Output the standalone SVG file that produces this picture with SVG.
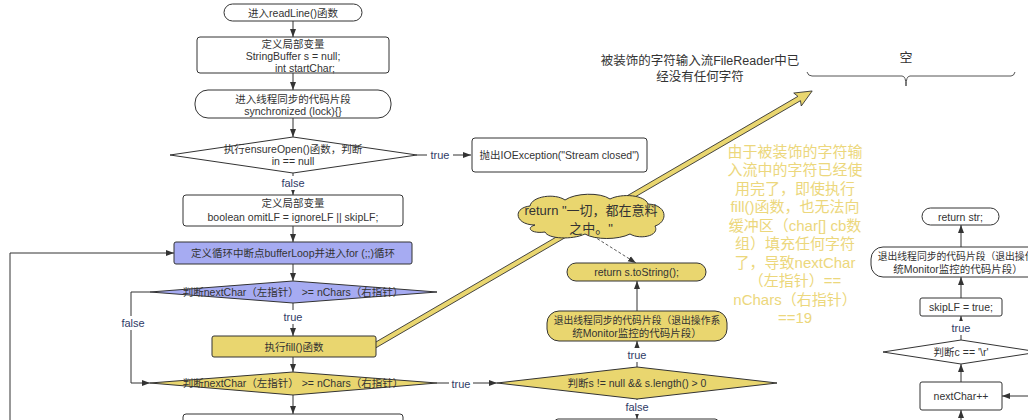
<svg xmlns="http://www.w3.org/2000/svg" width="1028" height="420" viewBox="0 0 1028 420">
<defs>
<style>
.t{font-family:"Liberation Sans","Noto Sans CJK SC",sans-serif;font-size:10.5px;fill:#333;text-anchor:middle;dominant-baseline:central}
.s{font-size:9.8px}
.lb{font-family:"Liberation Sans","Noto Sans CJK SC",sans-serif;font-size:11px;fill:#2f3b66;text-anchor:middle;dominant-baseline:central}
.w{fill:#fff;stroke:#333;stroke-width:1}
.b{fill:#a6abf2;stroke:#333;stroke-width:1}
.y{fill:#e9d66f;stroke:#333;stroke-width:1}
.c{fill:none;stroke:#333;stroke-width:1}
.yt{font-family:"Liberation Sans","Noto Sans CJK SC",sans-serif;font-size:15px;fill:#ecd77c;text-anchor:middle;dominant-baseline:central}
</style>
<marker id="ah" viewBox="0 0 8 8" refX="8" refY="4" markerWidth="8" markerHeight="8" markerUnits="userSpaceOnUse" orient="auto">
<path d="M0,1 L8,4 L0,7 Z" fill="#333"/>
</marker>
</defs>
<rect width="1028" height="420" fill="#fff"/>

<g id="connectors">
<line class="c" x1="293" y1="21" x2="293" y2="37" marker-end="url(#ah)"/>
<line class="c" x1="293" y1="73" x2="293" y2="90" marker-end="url(#ah)"/>
<line class="c" x1="293" y1="118" x2="293" y2="137" marker-end="url(#ah)"/>
<line class="c" x1="417" y1="155" x2="471" y2="155" marker-end="url(#ah)"/>
<line class="c" x1="293" y1="173" x2="293" y2="195" marker-end="url(#ah)"/>
<line class="c" x1="293" y1="226" x2="293" y2="242" marker-end="url(#ah)"/>
<polyline class="c" points="10,420 10,253 174,253" marker-end="url(#ah)"/>
<line class="c" x1="293" y1="264" x2="293" y2="281" marker-end="url(#ah)"/>
<line class="c" x1="293" y1="303" x2="293" y2="336" marker-end="url(#ah)"/>
<polyline class="c" points="150,292 131,292 131,383 150,383" marker-end="url(#ah)"/>
<line class="c" x1="293" y1="357" x2="293" y2="372" marker-end="url(#ah)"/>
<line class="c" x1="437" y1="383" x2="497" y2="383" marker-end="url(#ah)"/>
<line class="c" x1="293" y1="395" x2="293" y2="414" marker-end="url(#ah)"/>
<line class="c" x1="637" y1="367" x2="637" y2="341" marker-end="url(#ah)"/>
<line class="c" x1="637" y1="311" x2="637" y2="281" marker-end="url(#ah)"/>
<line class="c" x1="637" y1="399" x2="637" y2="419" marker-end="url(#ah)"/>
<line x1="593" y1="236" x2="636" y2="263" stroke="#333" stroke-width="0.8" stroke-dasharray="3,2" marker-end="url(#ah)"/>
<line class="c" x1="961" y1="420" x2="961" y2="410" marker-end="url(#ah)"/>
<line class="c" x1="1028" y1="396" x2="1002" y2="396" marker-end="url(#ah)"/>
<line class="c" x1="961" y1="382" x2="961" y2="364" marker-end="url(#ah)"/>
<line class="c" x1="961" y1="340" x2="961" y2="316" marker-end="url(#ah)"/>
<line class="c" x1="961" y1="298" x2="961" y2="277" marker-end="url(#ah)"/>
<line class="c" x1="961" y1="247" x2="961" y2="225" marker-end="url(#ah)"/>
<g transform="translate(374,346) rotate(-30.2)">
<polygon points="0,-2.5 492,-2.5 490,-7.5 507,0 490,7.5 492,2.5 0,2.5" fill="#e9d66f" stroke="#333" stroke-width="0.8"/>
</g>
<rect x="427" y="148" width="26" height="14" fill="#fff"/><text class="lb" x="440" y="155">true</text>
<rect x="280" y="176" width="26" height="14" fill="#fff"/><text class="lb" x="293" y="183">false</text>
<rect x="118" y="316" width="30" height="14" fill="#fff"/><text class="lb" x="133" y="323">false</text>
<rect x="281" y="310" width="24" height="14" fill="#fff"/><text class="lb" x="293" y="317">true</text>
<rect x="449" y="376" width="24" height="14" fill="#fff"/><text class="lb" x="461" y="384">true</text>
<rect x="625" y="348" width="24" height="14" fill="#fff"/><text class="lb" x="637" y="355">true</text>
<rect x="623" y="400" width="28" height="14" fill="#fff"/><text class="lb" x="637" y="407">false</text>
<rect x="949" y="321" width="24" height="14" fill="#fff"/><text class="lb" x="961" y="328">true</text>
</g>

<g id="n1"><rect class="w" x="224" y="4" width="138" height="17" rx="8.5"/><text class="t" x="293" y="12.5">进入readLine()函数</text></g>
<g id="n2"><rect class="w" x="197" y="37" width="192" height="36" rx="3"/><text class="t" x="293" y="44">定义局部变量</text><text class="t" x="293" y="56">StringBuffer s = null;</text><text class="t" x="305" y="68">int startChar;</text></g>
<g id="n3"><rect class="w" x="195" y="90" width="196" height="28" rx="13"/><text class="t" x="293" y="99">进入线程同步的代码片段</text><text class="t" x="293" y="111">synchronized (lock){}</text></g>
<g id="n4"><polygon class="w" points="293,137 417,155 293,173 170,155"/><text class="t" x="293" y="149">执行ensureOpen()函数，判断</text><text class="t" x="293" y="161">in == null</text></g>
<g id="n5"><rect class="w" x="472" y="138" width="175" height="34" rx="3"/><text class="t" x="559.5" y="155">抛出IOException("Stream closed")</text></g>
<g id="n6"><rect class="w" x="183" y="195" width="220" height="31" rx="3"/><text class="t" x="293" y="203">定义局部变量</text><text class="t" x="293" y="217">boolean omitLF = ignoreLF || skipLF;</text></g>
<g id="n7"><rect class="b" x="174" y="242" width="238" height="22" rx="2"/><text class="t" x="293" y="253">定义循环中断点bufferLoop并进入for (;;)循环</text></g>
<g id="n8"><polygon class="b" points="293,281 437,292 293,303 150,292"/><text class="t" x="293" y="292">判断nextChar（左指针） &gt;= nChars（右指针）</text></g>
<g id="n9"><rect class="y" x="212" y="336" width="164" height="21" rx="2"/><text class="t" x="294" y="346.5">执行fill()函数</text></g>
<g id="n10"><polygon class="y" points="293,372 437,383 293,395 150,383"/><text class="t" x="293" y="383">判断nextChar（左指针） &gt;= nChars（右指针）</text></g>
<g id="n11"><rect class="w" x="183" y="414" width="220" height="30" rx="3"/></g>
<g id="n12"><path class="y" d="M535,225 C515,225 512,208 530,206 C532,196 555,193 565,200 C575,193 600,192 610,199 C622,193 645,195 648,204 C668,205 668,222 655,226 C660,236 640,240 630,234 C618,240 595,240 585,234 C572,240 548,239 545,232 C532,234 525,228 535,225 Z"/><text class="t" style="font-size:13px" x="591" y="210">return "一切，都在意料</text><text class="t" style="font-size:13px" x="591" y="228">之中。"</text></g>
<g id="n13"><rect class="y" x="567" y="263" width="139" height="18" rx="9"/><text class="t" x="636.5" y="272">return s.toString();</text></g>
<g id="n14"><rect class="y" x="547" y="311" width="180" height="30" rx="12"/><text class="t s" x="637" y="320">退出线程同步的代码片段（退出操作系</text><text class="t" x="637" y="333">统Monitor监控的代码片段）</text></g>
<g id="n15"><polygon class="y" points="637,367 777,383 637,399 497,383"/><text class="t" x="637" y="383">判断s != null &amp;&amp; s.length() &gt; 0</text></g>
<g id="n16"><rect class="w" x="555" y="419" width="163" height="20" rx="3"/></g>
<g id="n17"><text class="t" style="font-size:12.5px" x="700" y="61">被装饰的字符输入流FileReader中已</text><text class="t" style="font-size:12.5px" x="700" y="77">经没有任何字符</text></g>
<g id="n18"><text class="t" style="font-size:13px" x="906" y="57">空</text><path d="M807,72 Q808,76 812,76 L902,76 Q906,76 906,86 Q906,76 910,76 L1011,76 Q1014,76 1015,72" fill="none" stroke="#555" stroke-width="1"/></g>
<g id="n19">
<text class="yt" x="795" y="151">由于被装饰的字符输</text>
<text class="yt" x="795" y="169.5">入流中的字符已经使</text>
<text class="yt" x="795" y="188">用完了，即使执行</text>
<text class="yt" x="795" y="206">fill()函数，也无法向</text>
<text class="yt" x="795" y="225">缓冲区（char[] cb数</text>
<text class="yt" x="795" y="243">组）填充任何字符</text>
<text class="yt" x="795" y="262">了，导致nextChar</text>
<text class="yt" x="795" y="280">（左指针）==</text>
<text class="yt" x="795" y="299">nChars（右指针）</text>
<text class="yt" x="795" y="317">==19</text>
</g>
<g id="n20"><rect class="w" x="922" y="208" width="77" height="17" rx="8.5"/><text class="t" x="960.5" y="216.5">return str;</text></g>
<g id="n21"><rect class="w" x="871" y="247" width="180" height="30" rx="12"/><text class="t s" x="961" y="256">退出线程同步的代码片段（退出操作系</text><text class="t" x="958" y="269">统Monitor监控的代码片段）</text></g>
<g id="n22"><rect class="w" x="920" y="298" width="82" height="18" rx="2"/><text class="t" x="961" y="307">skipLF = true;</text></g>
<g id="n23"><polygon class="w" points="961,340 1039,352 961,364 883,352"/><text class="t" x="961" y="352">判断c == '\r'</text></g>
<g id="n24"><rect class="w" x="920" y="382" width="82" height="28" rx="2"/><text class="t" x="961" y="396">nextChar++</text></g>
</svg>
